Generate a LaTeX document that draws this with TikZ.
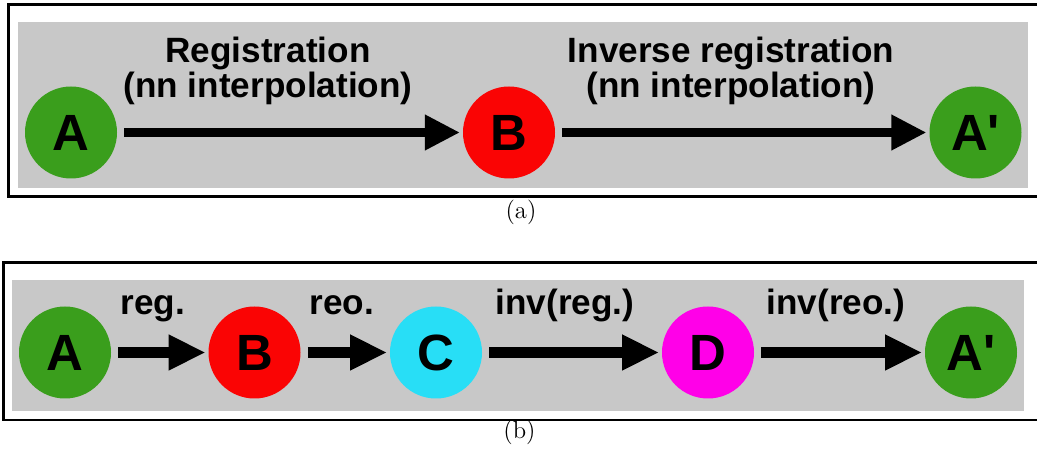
\documentclass[tikz,border=0pt]{standalone}
\usepackage{fontspec}
\setsansfont{Liberation Sans}
\usetikzlibrary{arrows.meta}

\definecolor{panelgray}{RGB}{200,200,200}
\definecolor{nodegreen}{RGB}{58,158,28}
\definecolor{nodered}{RGB}{250,4,4}
\definecolor{nodecyan}{RGB}{40,222,246}
\definecolor{nodemagenta}{RGB}{255,0,232}

\begin{document}
\begin{tikzpicture}[x=1cm,y=1cm]
\tikzset{
  panelframe/.style={draw=black,line width=1.7pt},
  panelback/.style={fill=panelgray,draw=none},
  statenode/.style={circle,draw=none,minimum size=18.4mm,inner sep=0pt,font=\sffamily\bfseries\fontsize{29}{29}\selectfont},
  steplabel/.style={font=\sffamily\bfseries\fontsize{20}{20}\selectfont,align=center,inner sep=0pt},
  panelcaption/.style={font=\fontsize{14}{16}\selectfont,inner sep=0pt},
  flow/.style={draw=black,line width=5pt,-{Triangle[length=20pt,width=19pt]},shorten <=4pt,shorten >=1.5pt},
  flowthick/.style={flow,line width=6.5pt,-{Triangle[length=21pt,width=19pt]}}
}
\useasboundingbox (0,0) rectangle (20.74,9.18);
% panel (a)
\draw[panelframe] (0.17,5.25) rectangle (21.20,9.09);
\fill[panelback] (0.36,5.42) rectangle (20.56,8.74);
\node[statenode,fill=nodegreen] (n_a_0) at (1.42,6.53) {A};
\node[statenode,fill=nodered] (n_b_0) at (10.18,6.53) {B};
\node[statenode,fill=nodegreen] (n_ap_0) at (19.51,6.53) {A\textquotesingle};
\draw[flow] (n_a_0) -- (n_b_0);
\draw[flow] (n_b_0) -- (n_ap_0);
\node[steplabel] (l_reg_0) at (5.36,7.77) {Registration\\(nn interpolation)};
\node[steplabel] (l_inv_0) at (14.62,7.77) {Inverse registration\\(nn interpolation)};
\node[panelcaption] (cap_a) at (10.42,4.93) {(a)};
% panel (b)
\draw[panelframe] (0.07,0.78) rectangle (21.20,3.93);
\fill[panelback] (0.24,0.96) rectangle (20.48,3.58);
\node[statenode,fill=nodegreen] (n_a_1) at (1.30,2.13) {A};
\node[statenode,fill=nodered] (n_b_1) at (5.09,2.13) {B};
\node[statenode,fill=nodecyan] (n_c_1) at (8.72,2.13) {C};
\node[statenode,fill=nodemagenta] (n_d_1) at (14.16,2.13) {D};
\node[statenode,fill=nodegreen] (n_ap_1) at (19.42,2.13) {A\textquotesingle};
\draw[flowthick] (n_a_1) -- (n_b_1);
\draw[flowthick] (n_b_1) -- (n_c_1);
\draw[flowthick] (n_c_1) -- (n_d_1);
\draw[flowthick] (n_d_1) -- (n_ap_1);
\node[steplabel,anchor=base] (l_reg_1) at (3.06,2.88) {reg.};
\node[steplabel,anchor=base] (l_reo_1) at (6.84,2.88) {reo.};
\node[steplabel,anchor=base] (l_ireg_1) at (11.30,2.88) {inv(reg.)};
\node[steplabel,anchor=base] (l_ireo_1) at (16.72,2.88) {inv(reo.)};
\node[panelcaption] (cap_b) at (10.39,0.53) {(b)};
\end{tikzpicture}
\end{document}
